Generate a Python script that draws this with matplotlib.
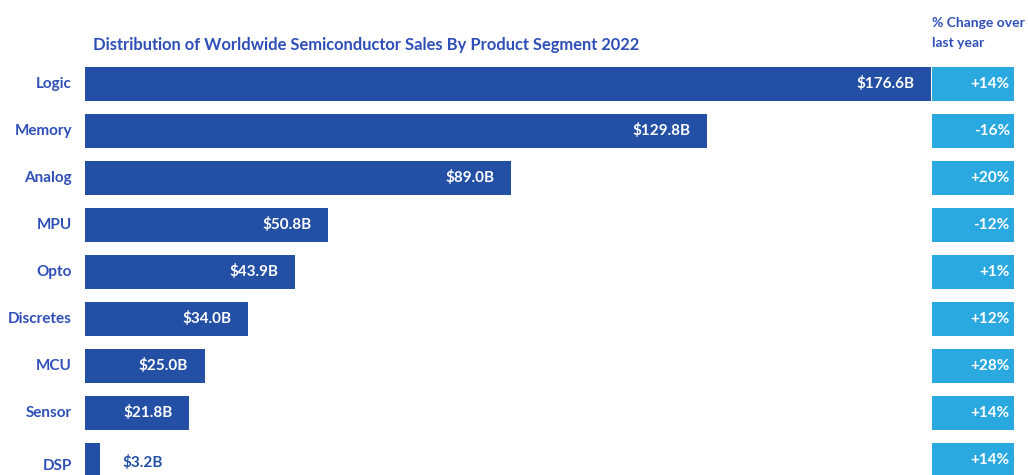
import matplotlib
matplotlib.use("Agg")
import matplotlib.pyplot as plt

categories = ["Logic", "Memory", "Analog", "MPU", "Opto", "Discretes", "MCU", "Sensor", "DSP"]
sales_b = [176.6, 129.8, 89.0, 50.8, 43.9, 34.0, 25.0, 21.8, 3.2]
pct_change = ["+14%", "-16%", "+20%", "-12%", "+1%", "+12%", "+28%", "+14%", "+14%"]
title = "Distribution of Worldwide Semiconductor Sales By Product Segment 2022"
col_header = "% Change over\nlast year"

BAR = "#2350a4"
TITLE = "#2f4fb8"
CELL = "#2aa8e0"
plt.rcParams['font.family'] = ['Lato', 'DejaVu Sans']

W, H = 1028, 475
fig = plt.figure(figsize=(W / 100, H / 100), dpi=100)

row0, step = 84, 47
ytop = -row0 / step
ybot = (H - row0) / step

x0, x1 = 85, 931
ax = fig.add_axes([x0 / W, 0, (x1 - x0) / W, 1])
ypos = list(range(len(categories)))
ax.barh(ypos, sales_b, height=34 / step, color=BAR)
ax.set_xlim(0, max(sales_b))
ax.set_ylim(ybot, ytop)
ax.axis("off")

n = len(categories)
for i, (c, v) in enumerate(zip(categories, sales_b)):
    dy = -4 if i == n - 1 else 0
    ax.annotate(c, xy=(0, i), xytext=(-9.5, dy), textcoords="offset points",
                ha="right", va="center", fontsize=11, fontweight="bold", color=TITLE)
    lab = f"${v:.1f}B"
    if v > 15:
        ax.annotate(lab, xy=(v, i), xytext=(-12, 0), textcoords="offset points",
                    ha="right", va="center", fontsize=11, fontweight="bold", color="white")
    else:
        ax.annotate(lab, xy=(v, i), xytext=(16, -2), textcoords="offset points",
                    ha="left", va="center", fontsize=11, fontweight="bold", color=BAR)

fig.text(93 / W, 1 - 45 / H, title, ha="left", va="center", fontsize=11.9,
         fontweight="bold", color=TITLE)

c0, c1 = 932, 1014
ax2 = fig.add_axes([c0 / W, 0, (c1 - c0) / W, 1])
ax2.barh(ypos, [1] * len(ypos), height=34 / step, color=CELL)
ax2.set_xlim(0, 1)
ax2.set_ylim(ybot, ytop)
ax2.axis("off")
for i, p in enumerate(pct_change):
    ax2.annotate(p, xy=(1, i), xytext=(-3, 0), textcoords="offset points",
                 ha="right", va="center", fontsize=11, fontweight="bold", color="white")

fig.text(932 / W, 1 - 33 / H, col_header, ha="left", va="center", fontsize=10,
         fontweight="bold", color=TITLE, linespacing=1.75)

fig.savefig("out.png", dpi=100, facecolor="white")
